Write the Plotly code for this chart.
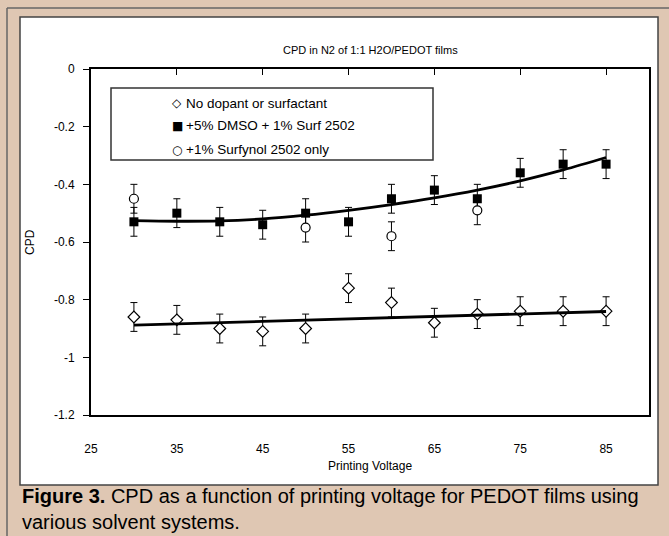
import plotly.graph_objects as go

# ---------------- data ----------------
voltage = [30, 35, 40, 45, 50, 55, 60, 65, 70, 75, 80, 85]
cpd_no_dopant = [-0.86, -0.87, -0.90, -0.91, -0.90, -0.76, -0.81, -0.88, -0.85, -0.84, -0.84, -0.84]
err_no_dopant = [0.05] * 12
cpd_dmso = [-0.53, -0.50, -0.53, -0.54, -0.50, -0.53, -0.45, -0.42, -0.45, -0.36, -0.33, -0.33]
err_dmso = [0.05] * 12
surf_voltage = [30, 50, 60, 70]
cpd_surf = [-0.45, -0.55, -0.58, -0.49]
err_surf = [0.05] * 4

# trend lines
trend_no_dopant_x = [30, 85]
trend_no_dopant = [-0.888, -0.841]
trend_dmso_x = voltage
trend_dmso = [-0.526, -0.528, -0.527, -0.520, -0.507, -0.490, -0.470, -0.447, -0.420, -0.388, -0.350, -0.307]

x_tickvals = [25, 35, 45, 55, 65, 75, 85]
y_tickvals = [0, -0.2, -0.4, -0.6, -0.8, -1.0, -1.2]
y_ticktext = ["0", "-0.2", "-0.4", "-0.6", "-0.8", "-1", "-1.2"]

legend_symbols = ["\u25c7", "\u25a0", "\u25cb"]
legend_labels = ["No dopant or surfactant", "+5% DMSO + 1% Surf 2502", "+1% Surfynol 2502 only"]

title_text = "CPD in N2 of 1:1 H2O/PEDOT films"
x_title = "Printing Voltage"
y_title = "CPD"
caption = ("<b>Figure 3.</b> CPD as a function of printing voltage for PEDOT films using"
           "<br>various solvent systems.")

# ---------------- geometry ----------------
W, H = 669, 536
L, R, T, B = 91, 649, 69, 415
TAN = "#dfc7b3"
FONT = "Liberation Sans, Arial, sans-serif"


def px(xp):
    return (xp - L) / (R - L)


def py(yp):
    return (B - yp) / (B - T)


fig = go.Figure()

err_style = dict(type="data", thickness=1, width=3.5, color="black")

fig.add_trace(go.Scatter(
    x=voltage, y=cpd_no_dopant, mode="markers",
    marker=dict(symbol="diamond", size=9, color="white", line=dict(color="black", width=1.2)),
    error_y=dict(array=err_no_dopant, **err_style), showlegend=False))
fig.add_trace(go.Scatter(
    x=voltage, y=cpd_dmso, mode="markers",
    marker=dict(symbol="square", size=9, color="black", line=dict(color="black", width=0)),
    error_y=dict(array=err_dmso, **err_style), showlegend=False))
fig.add_trace(go.Scatter(
    x=surf_voltage, y=cpd_surf, mode="markers",
    marker=dict(symbol="circle", size=9, color="white", line=dict(color="black", width=1.2)),
    error_y=dict(array=err_surf, **err_style), showlegend=False))

fig.add_trace(go.Scatter(
    x=trend_no_dopant_x, y=trend_no_dopant, mode="lines", xaxis="x2",
    line=dict(color="black", width=2.8), showlegend=False))
fig.add_trace(go.Scatter(
    x=trend_dmso_x, y=trend_dmso, mode="lines", xaxis="x2",
    line=dict(color="black", width=2.8, shape="spline", smoothing=1.0), showlegend=False))

shapes = [
    # white panel
    dict(type="rect", xref="paper", yref="paper", x0=px(20), x1=px(658), y0=py(485), y1=py(17),
         fillcolor="white", line=dict(color="#444444", width=1.5), layer="below"),
    # outer frame lines (top & left)
    dict(type="line", xref="paper", yref="paper", x0=px(7), x1=px(669), y0=py(8), y1=py(8),
         line=dict(color="#666666", width=1.5), layer="below"),
    dict(type="line", xref="paper", yref="paper", x0=px(7), x1=px(7), y0=py(8), y1=py(536),
         line=dict(color="#666666", width=1.5), layer="below"),
    # legend box
    dict(type="rect", xref="paper", yref="paper", x0=px(111), x1=px(433), y0=py(160), y1=py(88),
         fillcolor="rgba(0,0,0,0)", line=dict(color="#333333", width=1.5), layer="above"),
]

annotations = [
    dict(text=title_text, x=0.5, y=py(50), xref="paper", yref="paper", showarrow=False,
         xanchor="center", yanchor="middle", font=dict(family=FONT, size=11, color="black")),
    dict(text=x_title, x=0.5, y=py(466), xref="paper", yref="paper", showarrow=False,
         xanchor="center", yanchor="middle", font=dict(family=FONT, size=12, color="black")),
    dict(text=y_title, x=px(30), y=py(242), xref="paper", yref="paper", showarrow=False,
         textangle=-90, xanchor="center", yanchor="middle", font=dict(family=FONT, size=12, color="black")),
    dict(text=caption, x=px(20), y=py(509), xref="paper", yref="paper", showarrow=False,
         xanchor="left", yanchor="middle", align="left",
         font=dict(family=FONT, size=20, color="black")),
]

row_y = [103, 126, 149.5]
for sym, lab, yy in zip(legend_symbols, legend_labels, row_y):
    annotations.append(dict(text=sym, x=px(177), y=py(yy), xref="paper", yref="paper", showarrow=False,
                            xanchor="center", yanchor="middle",
                            font=dict(family="DejaVu Sans", size=12, color="black")))
    annotations.append(dict(text=lab, x=px(184), y=py(yy), xref="paper", yref="paper", showarrow=False,
                            xanchor="left", yanchor="middle",
                            font=dict(family=FONT, size=13.5, color="black")))

fig.update_layout(
    width=W, height=H,
    margin=dict(l=L, r=W - R, t=T, b=H - B, pad=0),
    paper_bgcolor=TAN, plot_bgcolor="white",
    showlegend=False,
    shapes=shapes, annotations=annotations,
    xaxis=dict(range=[25, 90], tickvals=x_tickvals, ticks="outside", ticklen=22, tickcolor="white",
               showline=True, linecolor="black", linewidth=2, showgrid=False, zeroline=False,
               tickfont=dict(family=FONT, size=12, color="black"), automargin=False),
    xaxis2=dict(range=[25, 90], overlaying="x", side="top", anchor="y", tickvals=x_tickvals,
                ticks="inside", ticklen=6, tickwidth=1, tickcolor="black", showticklabels=False,
                showline=True, linecolor="black", linewidth=2, showgrid=False, zeroline=False),
    yaxis=dict(range=[-1.2, 0], tickvals=y_tickvals, ticktext=y_ticktext, ticks="outside", ticklen=6,
               tickwidth=1, tickcolor="black", showline=True, mirror=True, linecolor="black", linewidth=2,
               showgrid=False, zeroline=False, tickfont=dict(family=FONT, size=12, color="black"),
               ticklabelstandoff=6, automargin=False),
)

fig.write_html("out.html")
